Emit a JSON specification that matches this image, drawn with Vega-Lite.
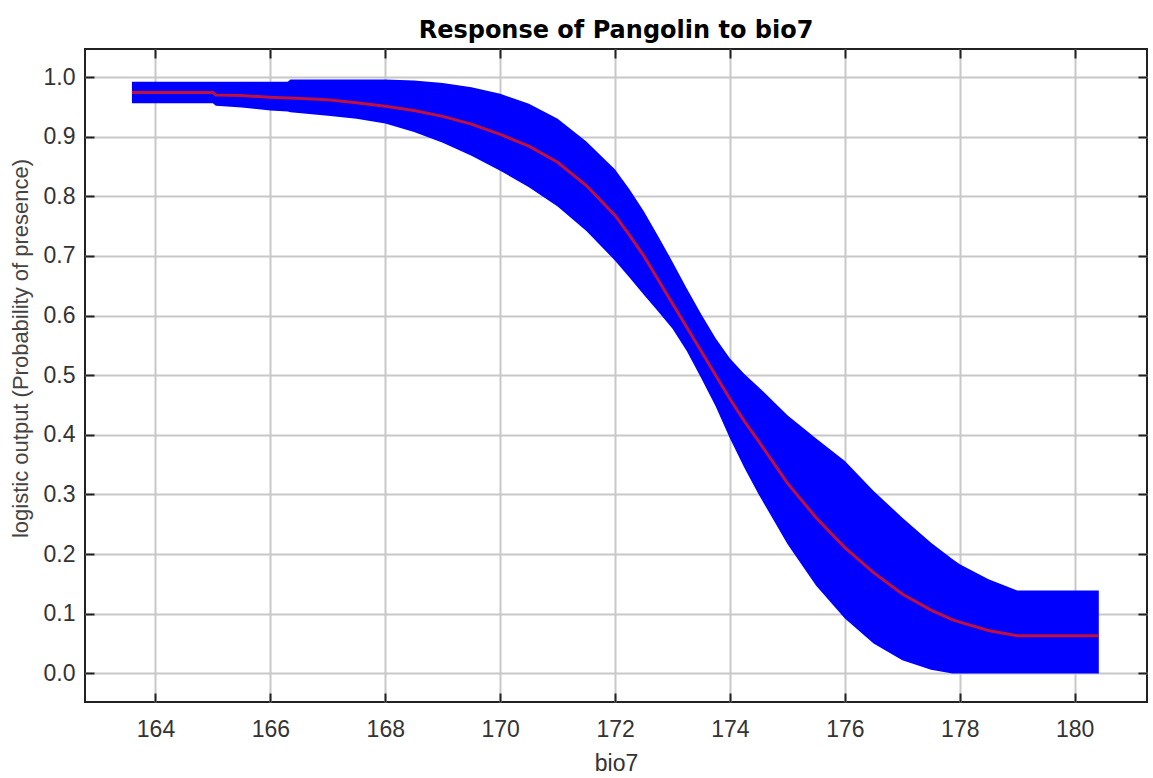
{
  "$schema": "https://vega.github.io/schema/vega-lite/v6.json",
  "autosize": {"type": "none"},
  "width": 1062,
  "height": 653,
  "padding": {"left": 85, "top": 49, "right": 6, "bottom": 76},
  "background": "white",
  "title": {
    "text": "Response of Pangolin to bio7",
    "font": "DejaVu Sans",
    "fontSize": 24,
    "fontWeight": "bold",
    "color": "#000000",
    "anchor": "middle",
    "baseline": "alphabetic",
    "offset": 12,
    "dy": 26
  },
  "config": {
    "view": {"stroke": "#222222", "strokeWidth": 2}
  },
  "data": {
    "values": [
      {"x": 163.59, "hi": 0.992, "mean": 0.974, "lo": 0.956},
      {"x": 164.0, "hi": 0.992, "mean": 0.974, "lo": 0.956},
      {"x": 164.5, "hi": 0.992, "mean": 0.974, "lo": 0.956},
      {"x": 165.0, "hi": 0.992, "mean": 0.974, "lo": 0.956},
      {"x": 165.05, "hi": 0.992, "mean": 0.970, "lo": 0.952},
      {"x": 165.5, "hi": 0.992, "mean": 0.969, "lo": 0.949},
      {"x": 166.0, "hi": 0.992, "mean": 0.966, "lo": 0.944},
      {"x": 166.3, "hi": 0.992, "mean": 0.965, "lo": 0.942},
      {"x": 166.35, "hi": 0.996, "mean": 0.965, "lo": 0.941},
      {"x": 167.0, "hi": 0.996, "mean": 0.962, "lo": 0.935},
      {"x": 167.5, "hi": 0.996, "mean": 0.957, "lo": 0.930},
      {"x": 168.0, "hi": 0.996, "mean": 0.951, "lo": 0.922},
      {"x": 168.5, "hi": 0.994, "mean": 0.944, "lo": 0.908},
      {"x": 169.0, "hi": 0.990, "mean": 0.934, "lo": 0.890},
      {"x": 169.5, "hi": 0.983, "mean": 0.921, "lo": 0.868},
      {"x": 170.0, "hi": 0.972, "mean": 0.904, "lo": 0.843},
      {"x": 170.5, "hi": 0.955, "mean": 0.884, "lo": 0.815},
      {"x": 171.0, "hi": 0.930, "mean": 0.857, "lo": 0.783},
      {"x": 171.5, "hi": 0.892, "mean": 0.818, "lo": 0.742},
      {"x": 172.0, "hi": 0.845, "mean": 0.768, "lo": 0.692},
      {"x": 172.25, "hi": 0.812, "mean": 0.735, "lo": 0.664},
      {"x": 172.5, "hi": 0.775, "mean": 0.700, "lo": 0.635},
      {"x": 172.75, "hi": 0.733, "mean": 0.660, "lo": 0.607},
      {"x": 173.0, "hi": 0.690, "mean": 0.620, "lo": 0.578},
      {"x": 173.25, "hi": 0.645, "mean": 0.580, "lo": 0.540},
      {"x": 173.5, "hi": 0.602, "mean": 0.540, "lo": 0.495},
      {"x": 173.75, "hi": 0.562, "mean": 0.500, "lo": 0.448},
      {"x": 174.0, "hi": 0.528, "mean": 0.460, "lo": 0.394},
      {"x": 174.25, "hi": 0.502, "mean": 0.423, "lo": 0.345},
      {"x": 174.5, "hi": 0.480, "mean": 0.389, "lo": 0.300},
      {"x": 175.0, "hi": 0.433, "mean": 0.319, "lo": 0.217},
      {"x": 175.5, "hi": 0.394, "mean": 0.261, "lo": 0.147},
      {"x": 176.0, "hi": 0.356, "mean": 0.211, "lo": 0.092},
      {"x": 176.5, "hi": 0.306, "mean": 0.169, "lo": 0.050},
      {"x": 177.0, "hi": 0.261, "mean": 0.133, "lo": 0.022},
      {"x": 177.5, "hi": 0.219, "mean": 0.106, "lo": 0.006},
      {"x": 177.87, "hi": 0.192, "mean": 0.090, "lo": 0.0},
      {"x": 178.0, "hi": 0.183, "mean": 0.086, "lo": 0.0},
      {"x": 178.5, "hi": 0.158, "mean": 0.072, "lo": 0.0},
      {"x": 179.0, "hi": 0.139, "mean": 0.063, "lo": 0.0},
      {"x": 180.42, "hi": 0.139, "mean": 0.063, "lo": 0.0}
    ]
  },
  "layer": [
    {
      "mark": {"type": "area", "color": "#0000ff", "opacity": 1, "interpolate": "linear"},
      "encoding": {
        "x": {
          "field": "x",
          "type": "quantitative",
          "scale": {"domain": [162.773, 181.259], "nice": false, "zero": false},
          "axis": {
            "orient": "bottom",
            "values": [164, 166, 168, 170, 172, 174, 176, 178, 180],
            "format": "d",
            "domain": false,
            "grid": true,
            "gridColor": "#c8c8c8",
            "gridWidth": 2,
            "ticks": true,
            "tickSize": -9,
            "tickWidth": 2,
            "tickColor": "#222222",
            "labelFont": "Liberation Sans",
            "labelFontSize": 23,
            "labelColor": "#333333",
            "labelPadding": 25,
            "title": "bio7",
            "titleFont": "Liberation Sans",
            "titleFontSize": 23,
            "titleFontWeight": "normal",
            "titleColor": "#333333",
            "titleY": 68,
            "titleBaseline": "alphabetic"
          }
        },
        "y": {
          "field": "hi",
          "type": "quantitative",
          "scale": {"domain": [-0.048, 1.047], "nice": false, "zero": false},
          "axis": {
            "orient": "left",
            "values": [0, 0.1, 0.2, 0.3, 0.4, 0.5, 0.6, 0.7, 0.8, 0.9, 1.0],
            "format": ".1f",
            "domain": false,
            "grid": true,
            "gridColor": "#c8c8c8",
            "gridWidth": 2,
            "ticks": true,
            "tickSize": -9,
            "tickWidth": 2,
            "tickColor": "#222222",
            "labelFont": "Liberation Sans",
            "labelFontSize": 23,
            "labelColor": "#333333",
            "labelPadding": 19,
            "title": "logistic output (Probability of presence)",
            "titleFont": "Liberation Sans",
            "titleFontSize": 22,
            "titleFontWeight": "normal",
            "titleColor": "#444444",
            "titleX": -65,
            "titleY": 299,
            "titleAngle": -90,
            "titleAlign": "center",
            "titleBaseline": "middle"
          }
        },
        "y2": {"field": "lo"}
      }
    },
    {
      "mark": {"type": "line", "color": "#c0103c", "strokeWidth": 3, "interpolate": "linear"},
      "encoding": {
        "x": {"field": "x", "type": "quantitative", "axis": null},
        "y": {"field": "mean", "type": "quantitative", "axis": null}
      }
    },
    {
      "mark": {"type": "line", "opacity": 0},
      "encoding": {
        "x": {
          "field": "x",
          "type": "quantitative",
          "axis": {
            "orient": "top",
            "values": [164, 166, 168, 170, 172, 174, 176, 178, 180],
            "domain": false,
            "grid": false,
            "labels": false,
            "ticks": true,
            "tickSize": -9,
            "tickWidth": 2,
            "tickColor": "#222222",
            "title": null
          }
        },
        "y": {
          "field": "mean",
          "type": "quantitative",
          "axis": {
            "orient": "right",
            "values": [0, 0.1, 0.2, 0.3, 0.4, 0.5, 0.6, 0.7, 0.8, 0.9, 1.0],
            "domain": false,
            "grid": false,
            "labels": false,
            "ticks": true,
            "tickSize": -9,
            "tickWidth": 2,
            "tickColor": "#222222",
            "title": null
          }
        }
      }
    }
  ],
  "resolve": {"axis": {"x": "independent", "y": "independent"}}
}
